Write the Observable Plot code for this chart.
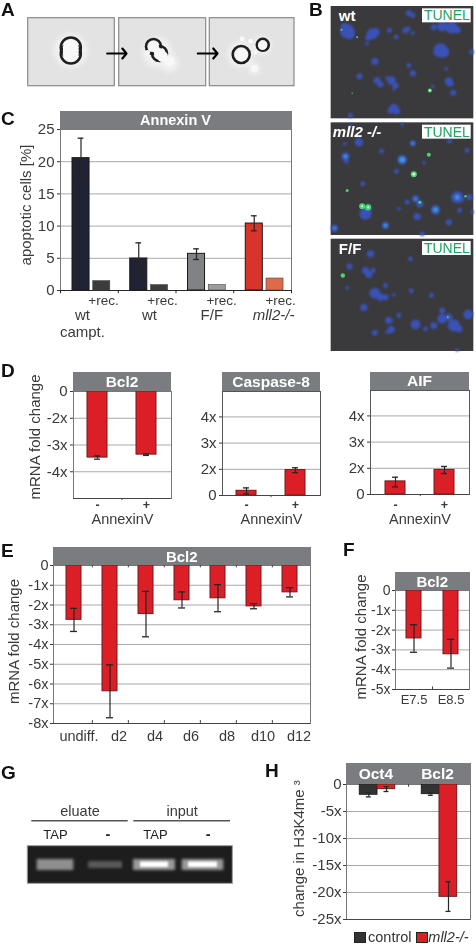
<!DOCTYPE html>
<html><head><meta charset="utf-8">
<script src="https://cdn.jsdelivr.net/npm/d3@7"></script>
<script src="https://cdn.jsdelivr.net/npm/@observablehq/plot@0.6"></script>
<style>
html,body{margin:0;padding:0;background:#fff}
#root{position:relative;width:476px;height:944px;overflow:hidden;font-family:"Liberation Sans",Arial,sans-serif;color:#333;filter:blur(.35px)}
.letter{position:absolute;font-weight:bold;font-size:19px;line-height:19px;color:#111}
.head{position:absolute;background:#7b7c7f;color:#fff;font-weight:bold;font-size:15px;text-align:center;box-sizing:border-box;white-space:nowrap}
.head span{position:absolute;transform:translate(-50%,-50%);top:50%}
.leg{position:absolute;font-size:14.5px;line-height:14px}
.sw{position:absolute;box-sizing:border-box;border:1px solid #222}
svg{overflow:visible}
</style></head><body><div id="root"></div>
<script>
// ---- panel C
const cGroups = ["wt campt.", "wt", "F/F", "mll2-/-"];
const cMain = [20.55, 4.97, 5.69, 10.4];
const cMainLo = [17.4, 2.54, 4.81, 9.27];
const cMainHi = [23.65, 7.4, 6.47, 11.6];
const cRec = [1.45, 0.83, 0.83, 1.86];
const cMainFill = ["#1f2333", "#1f2333", "#808285", "#d8352a"];
const cRecFill = ["#3c3c3c", "#3c3c3c", "#9a9c9e", "#e0694a"];
// ---- panel D (fold changes as labelled on the axes; the axes skip 1x)
const dSigns = ["-", "+"];
const bcl2Fold = [-3.47, -3.36], bcl2Lo = [-3.53, -3.39], bcl2Hi = [-3.41, -3.33];
const casp8Fold = [1.18, 1.97], casp8Lo = [1.06, 1.87], casp8Hi = [1.29, 2.06];
const aifFold = [1.5, 1.94], aifLo = [1.29, 1.8], aifHi = [1.66, 2.07];
// ---- panel E
const eDays = ["undiff.", "d2", "d4", "d6", "d8", "d10", "d12"];
const eFold = [-2.75, -6.37, -2.46, -1.76, -1.66, -2.07, -1.36];
const eLo = [-3.34, -7.71, -3.61, -2.15, -2.34, -2.19, -1.59];
const eHi = [-2.17, -5.03, -1.31, -1.34, -0.97, -1.93, -1.12];
// ---- panel F
const fStages = ["E7.5", "E8.5"];
const fFold = [-2.42, -3.22], fLo = [-3.12, -3.92], fHi = [-1.73, -2.47];
// ---- panel H
const hGenes = ["Oct4", "Bcl2"];
const hControl = [-1.9, -1.78], hControlLo = [-2.3, -2], hControlHi = [-1.5, -1.5];
const hMutant = [-0.86, -20.8], hMutantLo = [-1.3, -23.5], hMutantHi = [-0.4, -18];
// ---- panel A (micrograph features, image units)
const aFrames = [[27.7, 114.3], [118.7, 205.7], [209.3, 294]];
const aHalos = [[70, 50, 17], [157, 52, 15], [169, 63, 9], [240, 54, 13], [262, 45, 9], [254, 68, 6]];
const aRings = [[70.3, 47, 10], [70.3, 53, 10], [153, 46, 7.5], [159, 53, 7.5], [240.7, 54, 8.5], [262.3, 44.3, 6]];
const aBlobs = [[70.3, 47, 8], [70.3, 53, 8], [153, 46, 5.5], [159, 53, 5.5], [162, 56, 5.5], [169, 61, 5], [147, 52, 2.5], [241.7, 38.3, 2.5], [250, 40.7, 2.5], [255, 52, 2], [254, 68, 3.5], [241, 55, 6], [262, 45, 4.5]];
const aArrows = [[106.7, 126], [197.3, 217]];
// ---- panel B (micrograph features, image units)
const bFrames = [[18, 355], [367, 705], [716, 1053]];
const bLabels = ["wt", "mll2 -/-", "F/F"];
const bBlue = [[65,92,6],[72,100,4.5],[58,80,3.5],[140,100,4.5],[150,95,3.5],[128,112,2.5],[124,130,1.5],[192,90,2],[212,110,2],[240,90,2.5],[248,85,2],[262,98,1.5],[250,38,2.5],[262,45,2],[325,80,2.5],[350,78,4],[378,82,5],[395,88,3],[345,150,6],[355,155,4.5],[335,155,3],[148,183,3],[102,228,2.5],[155,240,3],[165,252,2.5],[185,233,1.5],[198,240,3.5],[210,255,2.5],[205,265,1.5],[250,195,2],[262,218,2.5],[362,205,1.5],[370,243,3.5],[375,250,2.5],[383,277,2.5],[322,258,1.5],[205,325,4],[195,330,2.5],[215,332,2.5],[75,345,2],[438,155,2],
[100,425,3.5],[58,430,1.5],[60,468,3.5],[62,482,2],[168,452,2],[262,428,2.5],[230,478,4],[295,487,1.5],[213,513,2],[372,422,2],[425,450,2],[75,375,1.5],[230,372,1.5],[112,550,2],[120,640,5],[125,625,4],[245,605,2],[270,595,3],[283,610,3],[220,625,1.5],[330,628,4],[275,648,3],[395,590,5],[405,595,3],[402,630,2],[432,590,2.5],[370,665,2.5],[180,675,3],[27,683,3],[290,700,2],[440,635,1.5],
[135,760,3],[72,798,2.5],[255,775,2],[120,810,3],[130,822,3],[143,810,2],[65,862,1.5],[180,855,2],[148,878,4.5],[165,890,3],[180,890,2.5],[205,883,1.5],[257,871,2],[318,885,2],[115,921,3],[220,945,2],[190,960,3],[197,987,3],[185,995,1.5],[148,997,2.5],[270,972,4],[300,985,2],[325,975,3],[350,955,4],[370,950,3],[385,975,5],[400,985,3],[428,942,4],[350,930,2.5],[395,1048,1.5]];
const bCyan = [[230,478,3],[262,428,1.5],[60,468,2],[180,675,2],[330,628,2.5],[395,590,2.5],[125,625,2],[27,683,1.5],[270,595,1.5]];
const bGreen = [[48,88,1],[95,110,1],[80,278,.7],[313,270,2],[265,521,3],[310,463,2],[65,570,1.5],[110,617,3],[128,620,3],[283,605,1.5],[420,587,1.2],[52,825,2.2],[367,950,1]];
const bWhite = [[313,270,1],[265,521,1.4],[110,617,1],[128,620,1]];
// ---- panel G (gel features, image units)
const gGroups = ["eluate", "input"];
const gSpans = [[31.3, 127.7], [133.3, 230]];
const gLanes = ["TAP", "-", "TAP", "-"];
const gLaneAt = [55, 107.3, 155, 207.7];
const gBandSpan = [[36.7, 73.3], [88, 122], [133, 175], [181.7, 223.3]];
const gBandFill = ["#8f8f8f", "#5a5a5a", "#9a9a9a", "#9a9a9a"];
const gCoreSpan = [[140, 168], [188, 217]];

const INK = "#262626", TXT = "#3a3a3a", GRID = "#a9a9a9", EDGE = "#777";
const RED = "#dc1f26", REDEDGE = "#6f1a1c";
const root = document.getElementById("root");
const place = (n, l, t) => { n.style.position = "absolute"; n.style.left = l + "px"; n.style.top = t + "px"; root.append(n); return n; };

function chart({x0, x1, y0, y1, ml = 60, mr = 12, mt = 10, mb = 50, x, y, marks, fontSize = 15}) {
  const svg = Plot.plot({
    width: ml + x1 - x0 + mr, height: mt + y1 - y0 + mb,
    marginLeft: ml, marginRight: mr, marginTop: mt, marginBottom: mb,
    x: {axis: null, ...x}, y: {axis: null, ...y}, r: {type: "identity"},
    style: {fontFamily: '"Liberation Sans",Arial,sans-serif', fontSize: fontSize + "px", background: "transparent", color: TXT},
    marks
  });
  place(svg, x0 - ml, y0 - mt);
}
function header(x0, x1, y0, y1, items, fs = 15) {
  const d = document.createElement("div");
  d.className = "head";
  d.style.cssText = `left:${x0}px;top:${y0}px;width:${x1 - x0}px;height:${y1 - y0}px;font-size:${fs}px`;
  for (const [t, at] of items) {
    const s = document.createElement("span");
    s.textContent = t; s.style.left = at * 100 + "%";
    d.append(s);
  }
  root.append(d);
}
function letter(t, x, capTop) {
  const d = document.createElement("div");
  d.className = "letter"; d.textContent = t;
  d.style.left = x + "px"; d.style.top = (capTop - 2.4) + "px";
  root.append(d);
}
const side = (t, dx, dy, fs = 15) => Plot.text([t], {frameAnchor: "left", textAnchor: "middle", rotate: -90, dx, dy, fontSize: fs, fill: TXT});
const under = {frameAnchor: "bottom", lineAnchor: "middle", fill: TXT};
const errs = (rows, cap) => [
  Plot.ruleX(rows, {x: "k", y1: "lo", y2: "hi", stroke: INK, strokeWidth: 1.2}),
  Plot.tickY(rows, {x: "k", y: "lo", insetLeft: cap, insetRight: cap, stroke: INK, strokeWidth: 1.3}),
  Plot.tickY(rows, {x: "k", y: "hi", insetLeft: cap, insetRight: cap, stroke: INK, strokeWidth: 1.3})
];
const zip = (k, v, lo, hi, f = d => d) => k.map((c, i) => ({k: c, v: f(v[i]), lo: f(lo[i]), hi: f(hi[i])}));

// ============ A
chart({x0: 0, x1: 476, y0: 0, y1: 110, ml: 0, mr: 0, mt: 0, mb: 0,
  x: {domain: [0, 476]}, y: {domain: [110, 0]},
  marks: [
    Plot.rect(aFrames, {x1: d => d[0], x2: d => d[1], y1: 17.7, y2: 85.7, fill: "#e3e3e3", stroke: "#8a8a8a", strokeWidth: 1.2}),
    Plot.dot(aHalos, {x: d => d[0], y: d => d[1], r: d => d[2], fill: "#f1f1f1", imageFilter: "blur(2.5px)"}),
    Plot.dot(aRings, {x: d => d[0], y: d => d[1], r: d => d[2], fill: "none", stroke: "#1f1f1f", strokeWidth: 2.6, imageFilter: "blur(.7px)"}),
    Plot.dot(aBlobs, {x: d => d[0], y: d => d[1], r: d => d[2], fill: "#f8f8f8", imageFilter: "blur(.6px)"}),
    Plot.arrow(aArrows, {x1: d => d[0], x2: d => d[1], y1: 53, y2: 53, stroke: "#000", strokeWidth: 2.2, headLength: 7, headAngle: 100})
  ]
});
// ============ B
chart({x0: 325, x1: 476, y0: 0, y1: 356, ml: 0, mr: 0, mt: 0, mb: 0,
  x: {domain: [0, 453]}, y: {domain: [1068, 0]},
  marks: [
    Plot.rect(bFrames, {x1: 17, x2: 445, y1: d => d[0], y2: d => d[1], fill: "#3a3a3c"}),
    Plot.dot(bBlue, {x: d => d[0], y: d => d[1], r: d => d[2] * 1.2, fill: "#3a52b8", imageFilter: "blur(.8px)"}),
    Plot.dot(bCyan, {x: d => d[0], y: d => d[1], r: d => d[2], fill: "#3f9bd8", imageFilter: "blur(.8px)"}),
    Plot.dot(bGreen, {x: d => d[0], y: d => d[1], r: d => d[2], fill: "#49d86a", imageFilter: "blur(.5px)"}),
    Plot.dot(bWhite, {x: d => d[0], y: d => d[1], r: d => d[2], fill: "#d8f8e0", imageFilter: "blur(.4px)"}),
    Plot.rect(bFrames, {x1: 291, x2: 437, y1: d => d[0] + 7, y2: d => d[0] + 49, fill: "#fff"}),
    Plot.text(bFrames, {x: 364, y: d => d[0] + 28, text: () => "TUNEL", fill: "#1fa262", fontSize: 14}),
    Plot.text(bFrames.slice(0, 1), {x: 40, y: d => d[0] + 29, text: () => bLabels[0], textAnchor: "start", fill: "#fff", fontWeight: "bold", fontSize: 15}),
    Plot.text(bFrames.slice(1, 2), {x: 22, y: d => d[0] + 28, text: () => bLabels[1], textAnchor: "start", fill: "#fff", fontWeight: "bold", fontStyle: "italic", fontSize: 15}),
    Plot.text(bFrames.slice(2, 3), {x: 40, y: d => d[0] + 31, text: () => bLabels[2], textAnchor: "start", fill: "#fff", fontWeight: "bold", fontSize: 15})
  ]
});
// ============ C
{
  const ticks = [0, 5, 10, 15, 20, 25];
  const main = cGroups.map((g, i) => ({i, v: cMain[i], lo: cMainLo[i], hi: cMainHi[i], f: cMainFill[i]}));
  const rec = cGroups.map((g, i) => ({i, v: cRec[i], f: cRecFill[i]}));
  const nameAt = [0.38, 1.54, 2.62, 3.69];
  const recAt = i => i + 0.745 + 0.022 * i;
  chart({x0: 60, x1: 291, y0: 129, y1: 290, ml: 60, mr: 12, mt: 10, mb: 55,
    x: {domain: [0, 4]}, y: {domain: [0, 25]},
    marks: [
      Plot.ruleY(ticks.slice(1), {stroke: GRID}),
      Plot.frame({stroke: EDGE}),
      Plot.ruleY([0], {stroke: INK}),
      Plot.ruleX([0, 1, 2, 3, 4], {y1: 0, y2: -0.5, stroke: INK}),
      Plot.axisY({ticks, label: null, tickSize: 3, tickPadding: 3, color: TXT}),
      Plot.rect(main, {x1: d => d.i + 0.208, x2: d => d.i + 0.503, y1: 0, y2: "v", fill: "f", stroke: "#1a1a1a"}),
      Plot.rect(rec, {x1: d => d.i + 0.567, x2: d => d.i + 0.862, y1: 0, y2: "v", fill: "f", stroke: "#444", strokeWidth: .6}),
      Plot.ruleX(main, {x: d => d.i + 0.355, y1: "lo", y2: "hi", stroke: INK, strokeWidth: 1.2}),
      Plot.ruleY(main, {x1: d => d.i + 0.305, x2: d => d.i + 0.405, y: "lo", stroke: INK, strokeWidth: 1.3}),
      Plot.ruleY(main, {x1: d => d.i + 0.305, x2: d => d.i + 0.405, y: "hi", stroke: INK, strokeWidth: 1.3}),
      Plot.text(cGroups, {x: (d, i) => recAt(i), text: () => "+rec.", ...under, dy: 10, fontSize: 13.5}),
      Plot.text(["wt", "wt", "F/F"], {x: (d, i) => nameAt[i], ...under, dy: 25, fontSize: 15}),
      Plot.text(["mll2-/-"], {x: nameAt[3], ...under, dy: 25, fontSize: 15, fontStyle: "italic"}),
      Plot.text(["campt."], {x: nameAt[0], ...under, dy: 42, fontSize: 15}),
      side("apoptotic cells [%]", -34, -5)
    ]
  });
  header(59.5, 291.5, 111, 129.5, [["Annexin V", .5]], 14.5);
}
// ============ D
const toAxis = v => v - Math.sign(v);
const foldFmt = p => p === 0 ? "0" : `${p + Math.sign(p)}x`;
function dPanel({x0, x1, y0, y1, domain, genes, fold, lo, hi, dy, name, xlabel}) {
  const ticks = domain[0] < 0 ? [0, -1, -2, -3] : [0, 1, 2, 3];
  const rows = zip(dSigns, fold, lo, hi, toAxis);
  const step = (x1 - x0) / 2;
  const bottom = domain[0];
  chart({x0, x1, y0, y1, ml: 50, mr: 6, mt: 10, mb: 35,
    x: {domain: dSigns, paddingInner: 0.59, paddingOuter: 0.295}, y: {domain},
    marks: [
      Plot.ruleY(ticks.filter(t => t !== 0), {stroke: GRID}),
      Plot.frame({stroke: domain[0] < 0 ? EDGE : "#555"}),
      Plot.ruleY([bottom], {stroke: "#444"}),
      Plot.ruleX(dSigns.slice(0, 1), {x: d => d, dx: step / 2, y1: bottom, y2: bottom - 0.08, stroke: "#444"}),
      Plot.axisY({ticks, tickFormat: foldFmt, label: null, tickSize: 3, tickPadding: 3, color: TXT}),
      Plot.barY(rows, {x: "k", y1: 0, y2: "v", fill: RED, stroke: REDEDGE}),
      ...errs(rows, 7),
      Plot.text(dSigns, {x: d => d, ...under, dy, fontSize: 12.5, fontWeight: "bold"}),
      Plot.text([xlabel], {...under, dy: dy + 14, fontSize: 14.5}),
      ...(name ? [side(name, -38, -8)] : [])
    ]
  });
  header(x0, x1, 372.3, y0 + 0.5, [[genes, .5]], 15.5);
}
dPanel({x0: 73, x1: 171, y0: 391, y1: 498, domain: [-4, 0], genes: "Bcl2", fold: bcl2Fold, lo: bcl2Lo, hi: bcl2Hi, dy: 6.5, name: "mRNA fold change", xlabel: "AnnexinV"});
dPanel({x0: 222, x1: 320, y0: 391, y1: 495, domain: [0, 3.97], genes: "Caspase-8", fold: casp8Fold, lo: casp8Lo, hi: casp8Hi, dy: 9.5, xlabel: "AnnexinV"});
dPanel({x0: 370, x1: 469, y0: 390, y1: 494, domain: [0, 3.97], genes: "AIF", fold: aifFold, lo: aifLo, hi: aifHi, dy: 10.5, xlabel: "AnnexinV"});
// ============ E
{
  const ticks = d3.range(0, -9, -1);
  const rows = zip(eDays, eFold, eLo, eHi);
  const step = 257 / 7;
  chart({x0: 53, x1: 310, y0: 565, y1: 723, ml: 50, mr: 8, mt: 10, mb: 25,
    x: {domain: eDays, paddingInner: 0.59, paddingOuter: 0.295}, y: {domain: [-8, 0]},
    marks: [
      Plot.ruleY(ticks.slice(1, -1), {stroke: GRID}),
      Plot.frame({stroke: EDGE}),
      Plot.ruleY([-8], {stroke: "#444"}),
      Plot.ruleX(eDays.slice(0, -1), {x: d => d, dx: step / 2, y1: 0, y2: -0.12, stroke: "#444"}),
      Plot.ruleX(eDays.slice(0, -1), {x: d => d, dx: step / 2, y1: -8, y2: -7.85, stroke: "#444"}),
      Plot.axisY({ticks, tickFormat: d => d === 0 ? "0" : `${d}x`, label: null, tickSize: 3, tickPadding: 2, color: TXT, fontSize: 14.5}),
      Plot.barY(rows, {x: "k", y1: 0, y2: "v", fill: RED, stroke: REDEDGE}),
      ...errs(rows, 4),
      Plot.text(eDays.slice(0, 1), {x: d => d, dx: 5, ...under, dy: 13, fontSize: 14.5}),
      Plot.text(eDays.slice(1), {x: d => d, dx: 9, ...under, dy: 13, fontSize: 14.5}),
      side("mRNA fold change", -39, -3)
    ]
  });
  header(53, 310.5, 547.3, 565.5, [["Bcl2", .5]], 15);
}
// ============ F
{
  const ticks = [0, -1, -2, -3, -4, -5];
  const rows = zip(fStages, fFold, fLo, fHi);
  chart({x0: 395, x1: 469, y0: 590, y1: 689, ml: 50, mr: 6, mt: 10, mb: 25,
    x: {domain: fStages, paddingInner: 0.59, paddingOuter: 0.295}, y: {domain: [-5, 0]},
    marks: [
      Plot.ruleY(ticks.slice(1, -1), {stroke: GRID}),
      Plot.frame({stroke: EDGE}),
      Plot.ruleY([-5], {stroke: "#444"}),
      Plot.ruleX(fStages.slice(0, 1), {x: d => d, dx: 18.5, y1: -5, y2: -4.87, stroke: "#444"}),
      Plot.axisY({ticks, tickFormat: d => d === 0 ? "0" : `${d}x`, label: null, tickSize: 3, tickPadding: 2, color: TXT, fontSize: 14}),
      Plot.barY(rows, {x: "k", y1: 0, y2: "v", fill: RED, stroke: REDEDGE}),
      ...errs(rows, 4),
      Plot.text(fStages, {x: d => d, ...under, dy: 10, fontSize: 13}),
      side("mRNA fold change", -34.5, -3)
    ]
  });
  header(395, 469.5, 572.3, 590.5, [["Bcl2", .5]], 15);
}
// ============ G
chart({x0: 0, x1: 260, y0: 795, y1: 895, ml: 0, mr: 0, mt: 0, mb: 0,
  x: {domain: [0, 260]}, y: {domain: [895, 795]},
  marks: [
    Plot.text(gGroups, {x: (d, i) => (gSpans[i][0] + gSpans[i][1]) / 2, y: 810.7, fontSize: 14.5, fill: TXT}),
    Plot.ruleY(gSpans, {x1: d => d[0], x2: d => d[1], y: 820.3, stroke: "#555", strokeWidth: 1.5}),
    Plot.text(gLanes.filter(d => d !== "-"), {x: (d, i) => gLaneAt[i * 2], y: 834, fontSize: 13, fill: "#222"}),
    Plot.text(gLanes.filter(d => d === "-"), {x: (d, i) => gLaneAt[i * 2 + 1], y: 834, fontSize: 14.5, fontWeight: "bold", fill: "#222"}),
    Plot.rect([0], {x1: 27.3, x2: 232.3, y1: 845.7, y2: 883.3, fill: "#1d1d1d", stroke: "#9a9a9a"}),
    Plot.rect(gBandSpan, {x1: d => d[0], x2: d => d[1], y1: (d, i) => i === 1 ? 861 : 859, y2: (d, i) => i === 1 ? 868 : 870, fill: (d, i) => gBandFill[i], imageFilter: "blur(1.5px)"}),
    Plot.rect(gCoreSpan, {x1: d => d[0], x2: d => d[1], y1: 861.5, y2: 867, fill: "#fff", imageFilter: "blur(1.2px)"})
  ]
});
// ============ H
{
  const ticks = [0, -5, -10, -15, -20, -25];
  const ctl = hGenes.map((g, i) => ({i, v: hControl[i], lo: hControlLo[i], hi: hControlHi[i]}));
  const mut = hGenes.map((g, i) => ({i, v: hMutant[i], lo: hMutantLo[i], hi: hMutantHi[i]}));
  const errMarks = (rows, c) => [
    Plot.ruleX(rows, {x: d => d.i + c, y1: "lo", y2: "hi", stroke: INK, strokeWidth: 1.2}),
    Plot.ruleY(rows, {x1: d => d.i + c - 0.04, x2: d => d.i + c + 0.04, y: "lo", stroke: INK, strokeWidth: 1.3}),
    Plot.ruleY(rows, {x1: d => d.i + c - 0.04, x2: d => d.i + c + 0.04, y: "hi", stroke: INK, strokeWidth: 1.3})
  ];
  chart({x0: 346, x1: 470, y0: 784, y1: 919, ml: 55, mr: 6, mt: 10, mb: 12,
    x: {domain: [0, 2]}, y: {domain: [-25, 0]},
    marks: [
      Plot.ruleY(ticks.slice(1, -1), {stroke: GRID}),
      Plot.frame({stroke: EDGE}),
      Plot.ruleY([-25], {stroke: "#444"}),
      Plot.ruleX([1], {y1: 0, y2: -0.5, stroke: "#444"}),
      Plot.axisY({ticks, tickFormat: d => d === 0 ? "0" : `${d}x`, label: null, tickSize: 3, tickPadding: 2, color: TXT}),
      Plot.rect(ctl, {x1: d => d.i + 0.215, x2: d => d.i + 0.5, y1: 0, y2: "v", fill: "#333", stroke: "#222"}),
      Plot.rect(mut, {x1: d => d.i + 0.5, x2: d => d.i + 0.785, y1: 0, y2: "v", fill: RED, stroke: REDEDGE}),
      ...errMarks(ctl, 0.36),
      ...errMarks(mut, 0.645)
    ]
  });
  const lab = Plot.plot({width: 30, height: 150, margin: 0, x: {axis: null, domain: [0, 1]}, y: {axis: null, domain: [0, 1]},
    style: {fontFamily: '"Liberation Sans",Arial,sans-serif', background: "transparent"},
    marks: [Plot.text(["change in H3K4me \u00B3"], {frameAnchor: "middle", rotate: -90, fontSize: 15, fill: TXT})]});
  place(lab, 284, 773);
  header(346, 470.5, 763.3, 784, [["Oct4", .24], ["Bcl2", .735]], 15.5);
  for (const [color, l] of [["#333", 354.3], [RED, 416]]) {
    const s = document.createElement("div");
    s.className = "sw"; s.style.cssText = `left:${l}px;top:932px;width:11.5px;height:10.5px;background:${color}`;
    root.append(s);
  }
  const t1 = document.createElement("div"); t1.className = "leg"; t1.textContent = "control"; t1.style.cssText = "left:368px;top:930px";
  const t2 = document.createElement("div"); t2.className = "leg"; t2.textContent = "mll2-/-"; t2.style.cssText = "left:428.3px;top:930px;font-style:italic";
  root.append(t1, t2);
}
// ============ letters
[["A", 1, 2.4], ["B", 309, 2.4], ["C", 1, 111.7], ["D", 1, 363], ["E", 1, 543.5], ["F", 343, 542], ["G", 1, 765], ["H", 265, 763]].forEach(a => letter(...a));
</script></body></html>
